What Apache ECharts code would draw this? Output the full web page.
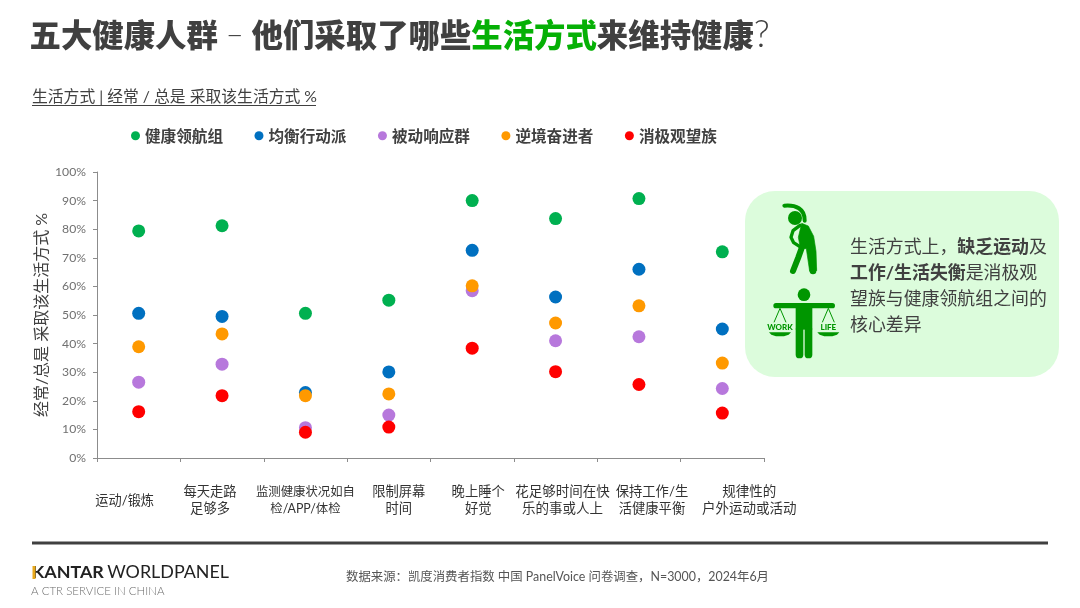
<!DOCTYPE html>
<html>
<head>
<meta charset="utf-8">
<style>html,body{margin:0;padding:0;background:#fff}#c{width:1080px;height:608px}</style>
<script src="https://cdn.jsdelivr.net/npm/echarts@6/dist/echarts.min.js"></script>
</head>
<body>
<div id="c"></div>
<script>
const categories = ['运动/锻炼','每天走路\n足够多','监测健康状况如自\n检/APP/体检','限制屏幕\n时间','晚上睡个\n好觉','花足够时间在快\n乐的事或人上','保持工作/生\n活健康平衡','规律性的\n户外运动或活动'];
const groupNames = ['健康领航组','均衡行动派','被动响应群','逆境奋进者','消极观望族'];
const navigators = [79.4,81.2,50.6,55.2,90.0,83.7,90.7,72.1];
const balancers  = [50.6,49.5,22.9,30.1,72.6,56.3,66.0,45.1];
const reactive   = [26.5,32.8,10.6,15.0,58.5,41.0,42.4,24.3];
const strivers   = [38.9,43.4,21.8,22.4,60.2,47.2,53.2,33.2];
const bystanders = [16.2,21.8, 9.0,10.8,38.4,30.2,25.7,15.7];
const groupColors = ['#00b050','#0070c0','#b778dc','#ff9900','#ff0000'];

const CJK = '"Noto Sans CJK SC"';
const MIXED = 'Lato,"Noto Sans CJK SC"';
const DARK = '#404040';
const ICON = '#009600';

// Horizontal nudge of each category label away from its tick slot centre.
const labelShift = [-14,-12,0,10,6,7,13,27];
const labelTop = [9,0,0,0,0,0,0,0];
const labelSize = [13.2,13.3,12.4,13.3,13.3,13.5,13.3,13.5];

const categoryItems = categories.map((value, i) => ({
  value,
  textStyle: {
    fontSize: labelSize[i],
    padding: [labelTop[i], labelShift[i] < 0 ? -labelShift[i] * 2 : 0, 0, labelShift[i] > 0 ? labelShift[i] * 2 : 0]
  }
}));

const groupValues = [navigators, balancers, reactive, strivers, bystanders];
const series = groupNames.map((name, i) => ({
  name,
  type: 'scatter',
  data: groupValues[i],
  symbol: 'circle',
  symbolSize: 13,
  itemStyle: { color: groupColors[i], opacity: 1 },
  z: 2 + i
}));

// Stretching figure, drawn on a 3x canvas and scaled down.
const stretchIcon = {
  type: 'group', x: 765, y: 198, scaleX: 1/3, scaleY: 1/3,
  children: [
    { type: 'circle', shape: { cx: 90, cy: 60, r: 21 }, style: { fill: ICON } },
    { type: 'bezierCurve', shape: { x1: 58, y1: 23, cpx1: 92, cpy1: 20, cpx2: 120, cpy2: 32, x2: 119, y2: 68 },
      style: { fill: 'none', stroke: ICON, lineWidth: 12, lineCap: 'round' } },
    { type: 'polygon', shape: { points: [[110,76],[130,84],[146,115],[153,160],[155,218],[134,220],[124,152],[106,150],[100,118]] },
      style: { fill: ICON, stroke: ICON, lineWidth: 2, lineJoin: 'round' } },
    { type: 'polyline', shape: { points: [[112,145],[100,178],[84,219]] },
      style: { fill: 'none', stroke: ICON, lineWidth: 18, lineCap: 'round' } },
    { type: 'polyline', shape: { points: [[105,82],[84,98],[78,118],[86,134],[108,148]] },
      style: { fill: 'none', stroke: ICON, lineWidth: 10, lineCap: 'round', lineJoin: 'round' } },
    { type: 'polyline', shape: { points: [[144,212],[144,219]] },
      style: { fill: 'none', stroke: ICON, lineWidth: 20, lineCap: 'round' } }
  ]
};

// One pan of the balance: cords, caption and bowl.
function balancePan(cx, caption) {
  return [
    { type: 'polyline', shape: { points: [[cx-18,118],[cx,76],[cx+18,118]] },
      style: { fill: 'none', stroke: ICON, lineWidth: 3 } },
    { type: 'text', style: { x: cx, y: 132, text: caption, align: 'center', verticalAlign: 'middle',
      fill: ICON, font: '900 24px Lato' } },
    { type: 'polygon', shape: { points: [[cx-33,148],[cx+33,148],[cx+26,155],[cx+12,160],[cx-12,160],[cx-26,155]] },
      style: { fill: ICON } }
  ];
}

// Figure holding the work/life balance.
const balanceIcon = {
  type: 'group', x: 765, y: 283, scaleX: 1/3, scaleY: 1/3,
  children: [
    { type: 'circle', shape: { cx: 117, cy: 35, r: 19 }, style: { fill: ICON } },
    { type: 'line', shape: { x1: 33, y1: 68, x2: 202, y2: 68 },
      style: { stroke: ICON, lineWidth: 16, lineCap: 'round' } },
    { type: 'rect', shape: { x: 92, y: 68, width: 50, height: 72 }, style: { fill: ICON } },
    { type: 'rect', shape: { x: 92, y: 130, width: 23, height: 96, r: 11 }, style: { fill: ICON } },
    { type: 'rect', shape: { x: 119, y: 130, width: 23, height: 96, r: 11 }, style: { fill: ICON } }
  ].concat(balancePan(45, 'WORK'), balancePan(190, 'LIFE'))
};

const calloutRich = {
  n: { font: '400 17.9px ' + MIXED, fill: DARK, lineHeight: 26 },
  b: { font: '700 17.9px ' + MIXED, fill: DARK, lineHeight: 26 }
};
const titleRich = {
  b: { font: '900 31.4px ' + CJK, fill: DARK },
  g: { font: '900 31.4px ' + CJK, fill: '#05b005' },
  t: { font: '300 31px Lato', fill: DARK },
  s: { font: '300 29px Lato', fill: DARK },
  q: { font: '300 37px Lato', fill: DARK }
};

const chart = echarts.init(document.getElementById('c'), null, { renderer: 'canvas' });
chart.setOption({
  animation: false,
  backgroundColor: '#ffffff',
  textStyle: { fontFamily: MIXED },
  grid: { left: 97, right: 316, top: 172, bottom: 150 },
  legend: {
    data: groupNames,
    left: 126, top: 123,
    icon: 'circle',
    itemWidth: 9, itemHeight: 9, itemGap: 31.5,
    textStyle: { fontFamily: CJK, fontSize: 15.6, fontWeight: 700, color: DARK }
  },
  xAxis: {
    type: 'category',
    data: categoryItems,
    boundaryGap: true,
    axisLine: { lineStyle: { color: '#8c8c8c', width: 1 } },
    axisTick: { show: true, alignWithLabel: false, length: 4, lineStyle: { color: '#8c8c8c' } },
    axisLabel: { interval: 0, margin: 25, color: '#333333', lineHeight: 17, fontFamily: MIXED, hideOverlap: false },
    splitLine: { show: false }
  },
  yAxis: {
    type: 'value',
    min: 0, max: 100, interval: 10,
    name: '经常/总是 采取该生活方式 %',
    nameLocation: 'middle',
    nameGap: 47,
    nameMoveOverlap: false,
    nameRotate: 90,
    nameTextStyle: { fontFamily: MIXED, fontSize: 16, color: DARK },
    axisLine: { show: true, lineStyle: { color: '#8c8c8c', width: 1 } },
    axisTick: { show: true, length: 4, lineStyle: { color: '#8c8c8c' } },
    axisLabel: { margin: 11, color: '#707070', fontFamily: 'Lato', fontSize: 12.2, formatter: '{value}%' },
    splitLine: { show: false }
  },
  series,
  graphic: [
    { type: 'text', style: { x: 29.5, y: 35, verticalAlign: 'middle',
      text: '{b|五大健康人群}{s| }{t|–}{s| }{b|他们采取了哪些}{g|生活方式}{b|来维持健康}{q|?}', rich: titleRich } },
    { type: 'text', style: { x: 32, y: 97, verticalAlign: 'middle',
      text: '生活方式 | 经常 / 总是 采取该生活方式 %', font: '400 15.8px ' + MIXED, fill: DARK } },
    { type: 'line', shape: { x1: 32, y1: 105.5, x2: 316, y2: 105.5 }, style: { stroke: DARK, lineWidth: 1 } },

    { type: 'rect', shape: { x: 745, y: 191, width: 314, height: 186, r: 30 }, style: { fill: '#dcfcdc' } },
    stretchIcon,
    balanceIcon,
    { type: 'text', style: { x: 850, y: 286, verticalAlign: 'middle', rich: calloutRich,
      text: '{n|生活方式上，}{b|缺乏运动}{n|及}\n{b|工作/生活失衡}{n|是消极观}\n{n|望族与健康领航组之间的}\n{n|核心差异}' } },

    { type: 'rect', shape: { x: 32, y: 541.5, width: 1016, height: 3 }, style: { fill: DARK } },
    { type: 'text', style: { x: 32, y: 572, verticalAlign: 'middle',
      text: '{k|KANTAR} {w|WORLDPANEL}',
      rich: { k: { font: '700 17.9px Lato', fill: '#222222' }, w: { font: '400 17.9px Lato', fill: '#222222' } } } },
    { type: 'rect', z: 5, shape: { x: 32.5, y: 566, width: 3, height: 13 }, style: { fill: '#e8a91c' } },
    { type: 'text', style: { x: 31, y: 591, verticalAlign: 'middle',
      text: 'A CTR SERVICE IN CHINA', font: '300 11.5px Lato', fill: '#6e6e6e' } },
    { type: 'text', style: { x: 346, y: 577, verticalAlign: 'middle',
      text: '数据来源：凯度消费者指数 中国 PanelVoice 问卷调查，N=3000，2024年6月', font: '400 12.4px ' + MIXED, fill: '#555555' } }
  ]
});
</script>
</body>
</html>
